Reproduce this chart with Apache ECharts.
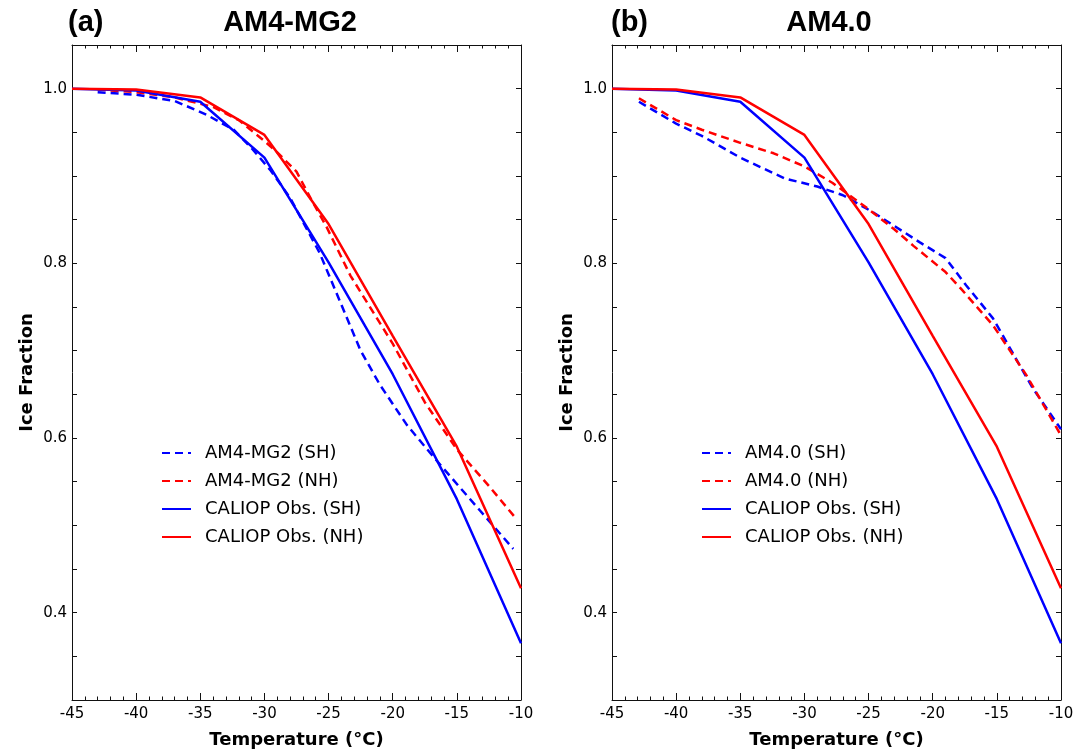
<!DOCTYPE html>
<html>
<head>
<meta charset="utf-8">
<script src="https://cdn.jsdelivr.net/npm/echarts@6/dist/echarts.min.js"></script>
<style>html,body{margin:0;padding:0;background:#fff}#c{width:1089px;height:754px}</style>
</head>
<body>
<div id="c"></div>
<script>
// ---- data ----
const tempObs = [-45, -40, -35, -30, -25, -20, -15, -10];
const caliopSH = [1.0, 0.998, 0.985, 0.921, 0.801, 0.673, 0.530, 0.365];
const caliopNH = [1.0, 0.999, 0.990, 0.947, 0.845, 0.717, 0.590, 0.428];

const mg2SH_T = [-43, -40, -37, -34.5, -32.4, -31, -29.5, -28, -25.7, -22.5, -21, -18.9, -16.8, -14.8, -13.2, -10.6];
const mg2SH   = [0.996, 0.993, 0.986, 0.970, 0.953, 0.932, 0.906, 0.875, 0.812, 0.700, 0.661, 0.615, 0.578, 0.544, 0.517, 0.473];
const mg2NH_T = [-43, -40, -37, -34, -32, -30, -29, -27.5, -26.2, -25.2, -23.3, -20, -17.5, -15, -12.5, -10.4];
const mg2NH   = [0.999, 0.996, 0.990, 0.979, 0.964, 0.940, 0.927, 0.905, 0.869, 0.843, 0.786, 0.708, 0.641, 0.587, 0.545, 0.508];

const am4SH_T = [-42.9, -40, -38, -35, -31.5, -29, -27, -24.6, -21, -19, -17.4, -15.3, -12.2, -10];
const am4SH   = [0.985, 0.960, 0.946, 0.921, 0.897, 0.888, 0.878, 0.858, 0.824, 0.806, 0.775, 0.737, 0.657, 0.610];
const am4NH_T = [-42.9, -40, -38, -35, -32.4, -30, -27.8, -25, -23, -21.5, -19, -17.8, -15.3, -12.7, -10];
const am4NH   = [0.989, 0.964, 0.953, 0.938, 0.926, 0.911, 0.892, 0.862, 0.839, 0.820, 0.790, 0.771, 0.729, 0.672, 0.603];

const yTickLabels = [0.4, 0.6, 0.8, 1.0];
const panelTitles = ['AM4-MG2', 'AM4.0'];
const panelTags = ['(a)', '(b)'];
const modelNames = [['AM4-MG2 (SH)', 'AM4-MG2 (NH)'], ['AM4.0 (SH)', 'AM4.0 (NH)']];
const obsNames = ['CALIOP Obs. (SH)', 'CALIOP Obs. (NH)'];

// ---- helpers ----
const zip = (xs, ys) => xs.map((x, i) => [x, ys[i]]);
const BLUE = '#0000ff', RED = '#ff0000';
const FONT = 'DejaVu Sans';
const grids = [{left: 72, top: 45, width: 449, height: 660}, {left: 612, top: 45, width: 449, height: 660}];

const xAxes = [], yAxes = [], series = [], titles = [], legends = [];
grids.forEach((g, gi) => {
  const axLine = {show: true, onZero: false, lineStyle: {color: '#111', width: 1}};
  const baseX = {
    type: 'value', gridIndex: gi, min: -45, max: -10, interval: 5,
    axisLine: axLine, splitLine: {show: false},
    axisTick: {show: true, inside: true, length: 7, lineStyle: {color: '#111'}},
    minorTick: {show: true, splitNumber: 5, length: 3.5, lineStyle: {color: '#111'}},
  };
  xAxes.push(Object.assign({}, baseX, {
    position: 'bottom',
    axisLabel: {show: true, margin: 7, fontFamily: FONT, fontSize: 15, color: '#000'},
    name: 'Temperature (°C)', nameLocation: 'middle', nameGap: 31,
    nameTextStyle: {fontFamily: FONT, fontWeight: 'bold', fontSize: 18, color: '#000'}
  }));
  xAxes.push(Object.assign({}, baseX, {position: 'top', axisLabel: {show: false}}));
  const baseY = {
    type: 'value', gridIndex: gi, min: 0.3, max: 1.05, interval: 0.05,
    axisLine: axLine, splitLine: {show: false},
    axisTick: {show: true, inside: true, length: 5, lineStyle: {color: '#111'}},
  };
  yAxes.push(Object.assign({}, baseY, {
    position: 'left',
    axisLabel: {show: true, interval: 0, margin: 5, fontFamily: FONT, fontSize: 15, color: '#000',
      formatter: v => yTickLabels.some(t => Math.abs(t - v) < 1e-6) ? (+v).toFixed(1) : ''},
    name: 'Ice Fraction', nameLocation: 'middle', nameGap: 36,
    nameTextStyle: {fontFamily: FONT, fontWeight: 'bold', fontSize: 18, color: '#000'}
  }));
  yAxes.push(Object.assign({}, baseY, {position: 'right', axisLabel: {show: false}}));

  const xi = gi * 2, yi = gi * 2;
  const mT = gi === 0 ? [mg2SH_T, mg2NH_T] : [am4SH_T, am4NH_T];
  const mV = gi === 0 ? [mg2SH, mg2NH] : [am4SH, am4NH];
  const lineBase = {type: 'line', xAxisIndex: xi, yAxisIndex: yi, symbol: 'none', showSymbol: false, animation: false, z: 3};
  series.push(Object.assign({}, lineBase, {name: modelNames[gi][0], data: zip(mT[0], mV[0]), color: BLUE,
    lineStyle: {color: BLUE, width: 2.5, type: [8, 5]}}));
  series.push(Object.assign({}, lineBase, {name: modelNames[gi][1], data: zip(mT[1], mV[1]), color: RED,
    lineStyle: {color: RED, width: 2.5, type: [8, 5]}}));
  series.push(Object.assign({}, lineBase, {name: obsNames[0], data: zip(tempObs, caliopSH), color: BLUE,
    lineStyle: {color: BLUE, width: 2.5, type: 'solid'}}));
  series.push(Object.assign({}, lineBase, {name: obsNames[1], data: zip(tempObs, caliopNH), color: RED,
    lineStyle: {color: RED, width: 2.5, type: 'solid'}}));

  titles.push({text: panelTitles[gi], left: gi === 0 ? 285 : 824, top: 3, textAlign: 'center',
    textStyle: {fontFamily: 'Liberation Sans', fontWeight: 'bold', fontSize: 29, color: '#000'}});
  titles.push({text: panelTags[gi], left: gi === 0 ? 63 : 606, top: 3,
    textStyle: {fontFamily: 'Liberation Sans', fontWeight: 'bold', fontSize: 29, color: '#000'}});

  legends.push({
    orient: 'vertical', left: gi === 0 ? 156 : 696, top: 438,
    data: [modelNames[gi][0], modelNames[gi][1], obsNames[0], obsNames[1]],
    itemWidth: 29, itemHeight: 14, itemGap: 8, selectedMode: false,
    itemStyle: {opacity: 0},
    textStyle: {fontFamily: FONT, fontSize: 18, color: '#000', padding: [0, 0, 0, 9], lineHeight: 20}
  });
});

const chart = echarts.init(document.getElementById('c'), null, {renderer: 'canvas'});
chart.setOption({
  backgroundColor: '#fff',
  animation: false,
  title: titles,
  legend: legends,
  grid: grids,
  xAxis: xAxes,
  yAxis: yAxes,
  series: series
});
</script>
</body>
</html>
